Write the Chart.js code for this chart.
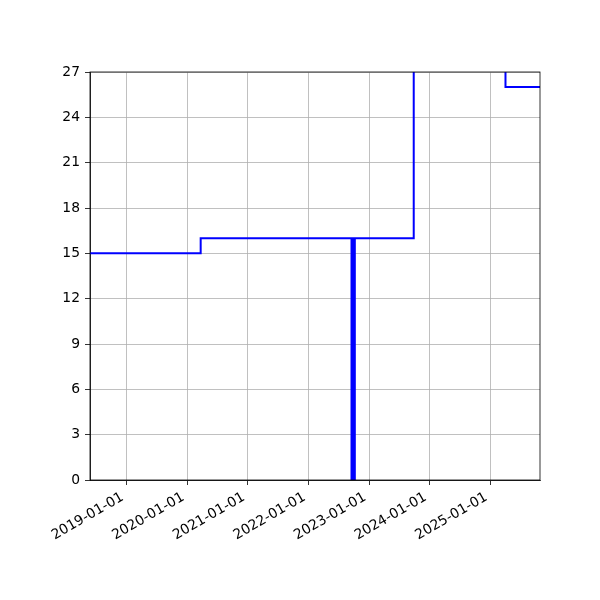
<!DOCTYPE html>
<html>
<head>
<meta charset="utf-8">
<script src="https://cdn.jsdelivr.net/npm/chart.js@4"></script>
<style>
html,body{margin:0;padding:0;background:#fff;}
#wrap{width:600px;height:600px;}
</style>
</head>
<body>
<div id="wrap"><canvas id="c" width="600" height="600"></canvas></div>
<script>
const dates = ['2018-05-25','2020-03-22','2022-09-17','2022-09-20','2022-09-23','2022-09-26','2022-09-29','2022-10-02','2022-10-05','2022-10-07','2023-09-27','2025-04-02','2025-10-27'];
const values = [15,16,0,16,0,16,0,16,0,16,30,26,26];
const xTickDates = ['2019-01-01','2020-01-01','2021-01-01','2022-01-01','2023-01-01','2024-01-01','2025-01-01'];
const yMin = 0, yMax = 27, yStep = 3;

const toMs = s => Date.parse(s + 'T00:00:00Z');
const points = dates.map((d,i)=>({x:toMs(d), y:values[i]}));
const fmt = v => new Date(v).toISOString().slice(0,10);
const FONT = 'DejaVu Sans';

const frame = {
  id:'frame',
  afterDraw(chart){
    const {ctx, chartArea:a} = chart;
    ctx.save();
    ctx.strokeStyle='#000'; ctx.lineWidth=0.8;
    ctx.strokeRect(a.left, a.top, a.right-a.left, a.bottom-a.top);
    ctx.restore();
  }
};

new Chart(document.getElementById('c'), {
  type:'line',
  data:{datasets:[{data:points, borderColor:'#0000ff', borderWidth:2, pointRadius:0, stepped:'before', fill:false}]},
  options:{
    responsive:false, animation:false,
    layout:{padding:{left:0, top:72, right:60, bottom:0}},
    plugins:{legend:{display:false}, tooltip:{enabled:false}},
    scales:{
      x:{
        type:'linear',
        min:toMs(dates[0]), max:toMs(dates[dates.length-1]),
        afterBuildTicks(s){ s.ticks = xTickDates.map(d=>({value:toMs(d)})); },
        afterFit(s){ s.height = 120; },
        grid:{color:'#b0b0b0', lineWidth:0.8, tickColor:'#000', tickLength:5, tickWidth:0.8},
        border:{color:'#000', width:0.8},
        ticks:{autoSkip:false, minRotation:30, maxRotation:30, padding:4, labelOffset:-4, color:'#000',
          font:{family:FONT, size:13.89}, callback:(v)=>fmt(v)}
      },
      y:{
        min:yMin, max:yMax,
        afterBuildTicks(s){ const t=[]; for(let v=yMin; v<=yMax; v+=yStep) t.push({value:v}); s.ticks=t; },
        afterFit(s){ s.width = 90; },
        grid:{color:'#b0b0b0', lineWidth:0.8, tickColor:'#000', tickLength:5, tickWidth:0.8},
        border:{color:'#000', width:0.8},
        ticks:{padding:5, color:'#000', font:{family:FONT, size:13.89}}
      }
    }
  },
  plugins:[frame]
});
</script>
</body>
</html>
